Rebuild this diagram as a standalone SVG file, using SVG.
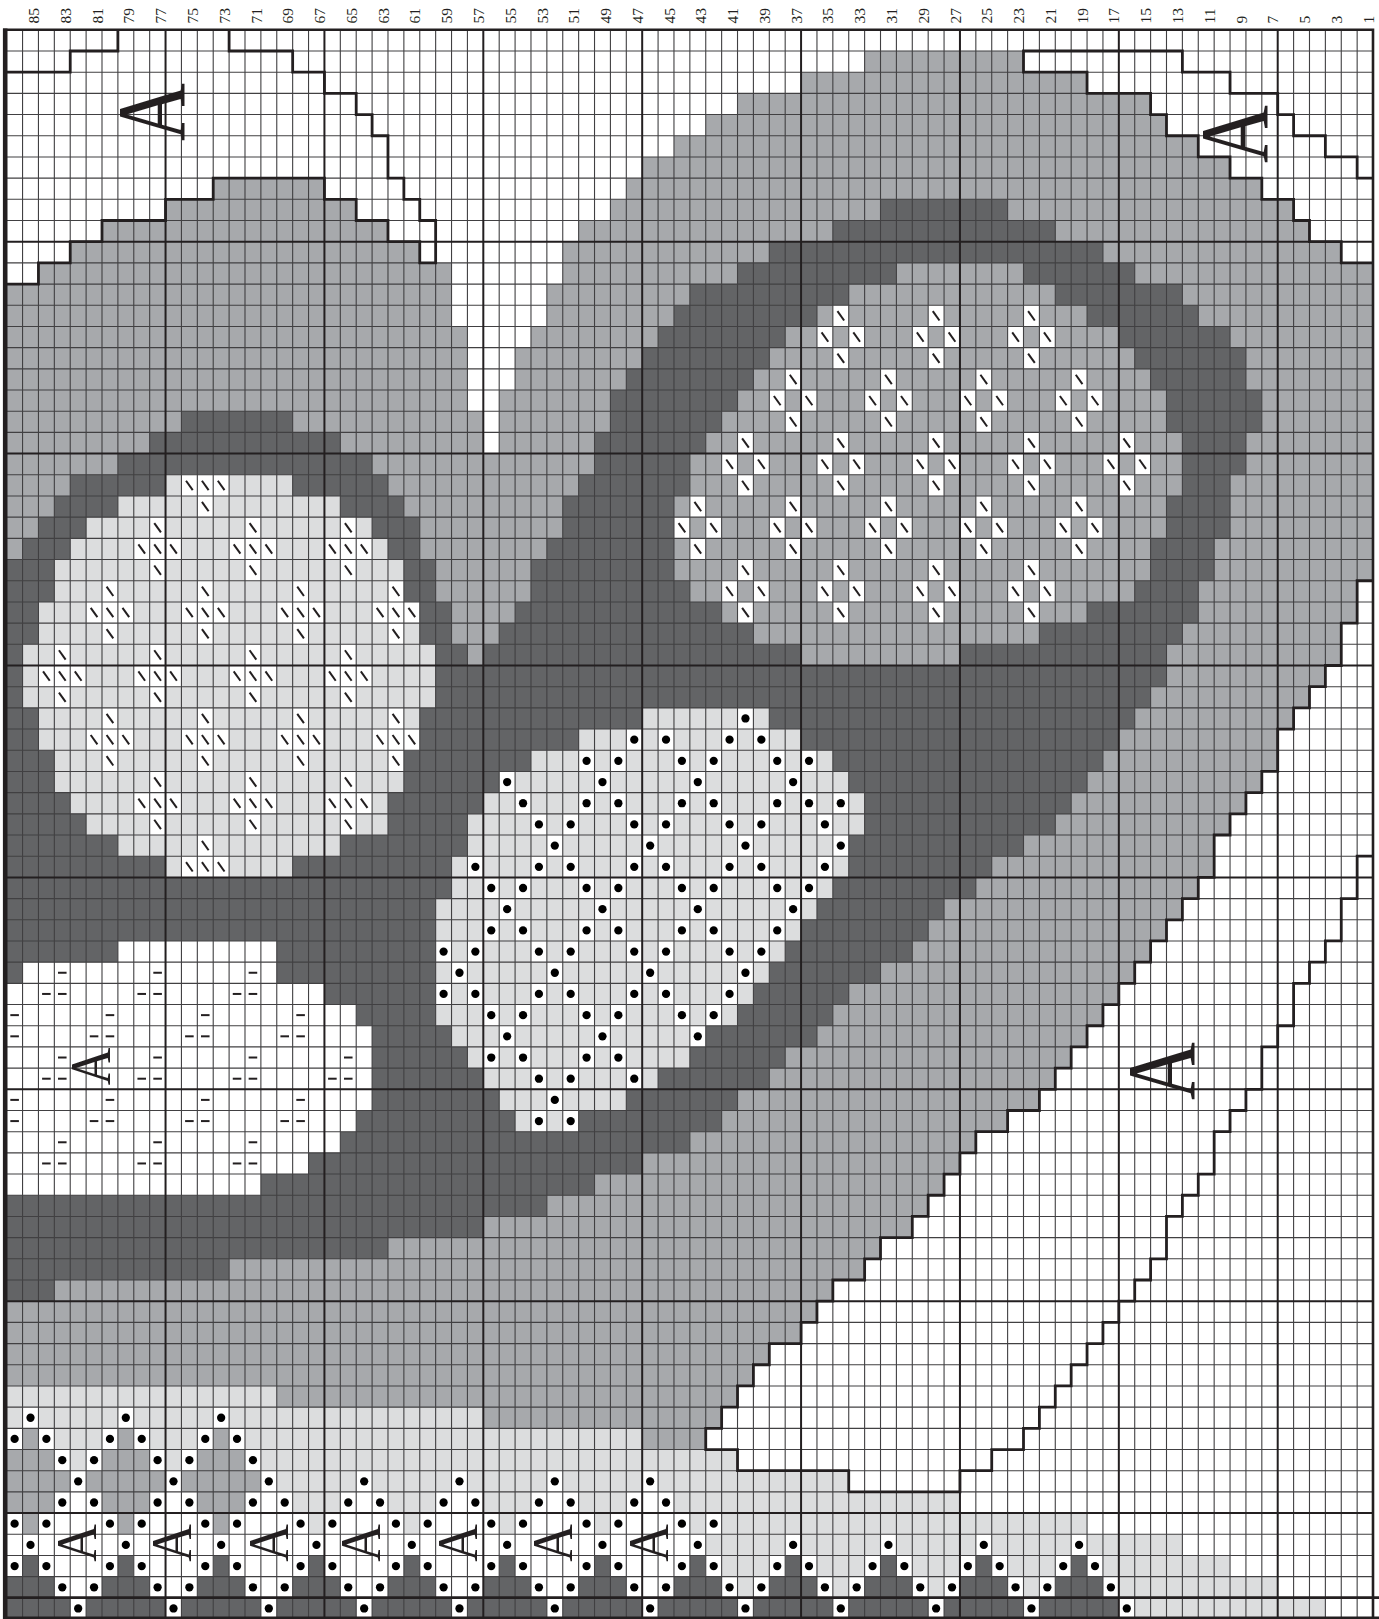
<svg xmlns="http://www.w3.org/2000/svg" width="1379" height="1619" viewBox="0 0 1379 1619">
<style>
.n{font:15.5px "Liberation Serif",serif;fill:#231f20}
.a{font-family:"Liberation Serif",serif;fill:#231f20;text-anchor:middle}
.b{font-size:80px}.c{font-size:52px}
.m{fill:#a7a9ac}.k{fill:#636466}.l{fill:#dcddde}.w{fill:#fff}
.v{vector-effect:non-scaling-stroke;fill:none}
.g1{stroke:#414042;stroke-width:1.1}
.g2{stroke:#231f20;stroke-width:2}
.o{stroke:#231f20;stroke-width:2.8;stroke-linejoin:miter}
.s{stroke:#231f20;stroke-width:2}
</style>
<defs>
<g id="d"><rect width="1" height="1" fill="#fff"/><ellipse cx=".5" cy=".5" rx=".26" ry=".195" fill="#000"/></g>
<g id="s"><rect width="1" height="1" fill="#fff"/><path class="v s" d="M.29 .28L.71 .72"/></g>
<path id="h" class="v s" d="M.23 .5H.77"/>
</defs>
<rect width="1379" height="1619" fill="#fff"/>
<g id="chart" transform="translate(6.67 29.8) scale(15.888 21.19)">
<path class="m" d="M54 1H64V2H54zM50 2H68V3H50zM46 3H72V4H46zM44 4H73V5H44zM42 5H75V6H42zM40 6H77V7H40zM13 7H20V8H13zM39 7H79V8H39zM10 8H22V9H10zM38 8H81V9H38zM6 9H24V10H6zM36 9H82V10H36zM4 10H26V11H4zM35 10H84V11H35zM2 11H28V12H2zM35 11H86V12H35zM0 12H28V14H0zM34 12H86V14H34zM0 14H29V15H0zM33 14H86V15H33zM0 15H29V17H0zM32 15H86V17H32zM0 17H29V18H0zM31 17H86V18H31zM0 18H30V20H0zM31 18H86V20H31zM0 20H86V26H0z"/>
<path class="m" d="M0 26H85V28H84V30H83V31H82V32H81V33H80V35H79V36H78V37H77V38H76V40H75V41H74V42H73V43H72V44H71V45H70V46H69V47H68V48H67V49H66V50H65V51H63V52H61V53H60V54H59V55H58V56H57V57H55V58H54V59H52V60H51V61H50V62H48V63H47V64H46V65H45V66H44V67H0z"/>
<path class="k" d="M55 8H63V9H55zM52 9H66V10H52zM48 10H69V11H48zM46 11H56V12H46zM64 11H71V12H64zM43 12H53V13H43zM66 12H74V13H66zM42 13H51V14H42zM68 13H75V14H68zM41 14H49V15H41zM70 14H77V15H70zM40 15H48V16H40zM71 15H78V16H71zM39 16H47V17H39zM72 16H78V17H72zM38 17H46V18H38zM73 17H79V18H73zM38 18H45V19H38zM73 18H79V19H73zM11 18H18V19H11zM37 19H44V20H37zM74 19H78V20H74zM9 19H21V20H9zM37 20H43V21H37zM74 20H78V21H74zM7 20H23V21H7zM36 21H43V22H36zM74 21H77V22H74zM4 21H24V22H4zM35 22H42V23H35zM73 22H77V23H73zM3 22H25V23H3zM35 23H42V24H35zM73 23H77V24H73zM2 23H26V24H2zM34 24H42V25H34zM72 24H76V25H72zM1 24H26V25H1zM33 25H42V26H33zM72 25H76V26H72zM0 25H27V26H0zM33 26H43V27H33zM71 26H75V27H71zM0 26H27V27H0zM32 27H45V28H32zM68 27H75V28H68zM0 27H28V28H0zM31 28H47V29H31zM65 28H74V29H65zM0 28H28V29H0zM0 29H29V30H0zM30 29H50V30H30zM60 29H73V30H60z"/>
<path class="k" d="M0 30H73V31H72V32H71V33H70V34H69V35H68V36H67V37H66V38H64V39H62V40H61V41H59V42H58V43H57V44H55V45H53V46H52V47H51V48H49V49H48V50H46V51H45V52H43V53H40V54H37V55H34V56H30V57H24V58H14V59H3V60H0z"/>
<path class="l" d="M10 21H18V22H21V23H23V24H24V25H25V27H26V29H27V32H26V34H25V36H24V38H21V39H18V40H10V39H7V38H5V37H4V36H3V34H2V32H1V29H2V27H3V25H4V24H5V23H7V22H10z"/>
<path class="l" d="M40 32H48V33H50V34H52V35H53V36H54V38H53V40H52V41H51V42H50V43H49V44H48V45H47V46H46V47H44V48H43V49H41V50H39V51H36V52H32V51H31V50H30V49H29V48H28V47H27V41H28V39H29V37H30V36H31V35H33V34H36V33H40z"/>
<path class="w" d="M7 43H17V45H20V46H22V47H23V51H22V52H21V53H19V54H16V55H0V45H1V44H7z"/>
<path class="l" d="M0 64H17V65H30V66H40V67H46V68H53V69H60V70H68V71H74V72H77V73H80V74H83V75H0z"/>
<path class="m" d="M1 66H2V67H1zM7 66H8V67H7zM13 66H14V67H13zM0 67H3V68H0zM6 67H9V68H6zM12 67H15V68H12zM0 68H4V69H0zM5 68H10V69H5zM11 68H16V69H11zM0 69H3V70H0zM6 69H9V70H6zM12 69H15V70H12zM1 70H2V71H1zM7 70H8V71H7zM13 70H14V71H13z"/>
<path class="w" d="M4 69H5V70H4zM10 69H11V70H10zM16 69H17V70H16zM22 69H23V70H22zM28 69H29V70H28zM34 69H35V70H34zM40 69H41V70H40zM3 70H6V71H3zM9 70H12V71H9zM15 70H18V71H15zM21 70H24V71H21zM27 70H30V71H27zM33 70H36V71H33zM39 70H42V71H39zM0 71H44V72H0zM3 72H6V73H3zM9 72H12V73H9zM15 72H18V73H15zM21 72H24V73H21zM27 72H30V73H27zM33 72H36V73H33zM39 72H42V73H39zM4 73H5V74H4zM10 73H11V74H10zM16 73H17V74H16zM22 73H23V74H22zM28 73H29V74H28zM34 73H35V74H34zM40 73H41V74H40zM83 74H86V75H83z"/>
<path class="k" d="M1 72H2V73H1zM7 72H8V73H7zM13 72H14V73H13zM19 72H20V73H19zM25 72H26V73H25zM31 72H32V73H31zM37 72H38V73H37zM43 72H44V73H43zM49 72H50V73H49zM55 72H56V73H55zM61 72H62V73H61zM67 72H68V73H67zM0 73H3V74H0zM6 73H9V74H6zM12 73H15V74H12zM18 73H21V74H18zM24 73H27V74H24zM30 73H33V74H30zM36 73H39V74H36zM42 73H45V74H42zM48 73H51V74H48zM54 73H57V74H54zM60 73H63V74H60zM66 73H69V74H66zM0 74H71V75H0z"/>
<g id="slashes">
<use href="#s" x="11" y="21"/><use href="#s" x="12" y="21"/><use href="#s" x="13" y="21"/><use href="#s" x="12" y="22"/>
<use href="#s" x="9" y="23"/><use href="#s" x="15" y="23"/><use href="#s" x="21" y="23"/>
<use href="#s" x="8" y="24"/><use href="#s" x="9" y="24"/><use href="#s" x="10" y="24"/><use href="#s" x="14" y="24"/><use href="#s" x="15" y="24"/><use href="#s" x="16" y="24"/><use href="#s" x="20" y="24"/><use href="#s" x="21" y="24"/><use href="#s" x="22" y="24"/>
<use href="#s" x="9" y="25"/><use href="#s" x="15" y="25"/><use href="#s" x="21" y="25"/>
<use href="#s" x="6" y="26"/><use href="#s" x="12" y="26"/><use href="#s" x="18" y="26"/><use href="#s" x="24" y="26"/>
<use href="#s" x="5" y="27"/><use href="#s" x="6" y="27"/><use href="#s" x="7" y="27"/><use href="#s" x="11" y="27"/><use href="#s" x="12" y="27"/><use href="#s" x="13" y="27"/><use href="#s" x="17" y="27"/><use href="#s" x="18" y="27"/><use href="#s" x="19" y="27"/><use href="#s" x="23" y="27"/><use href="#s" x="24" y="27"/><use href="#s" x="25" y="27"/>
<use href="#s" x="6" y="28"/><use href="#s" x="12" y="28"/><use href="#s" x="18" y="28"/><use href="#s" x="24" y="28"/>
<use href="#s" x="3" y="29"/><use href="#s" x="9" y="29"/><use href="#s" x="15" y="29"/><use href="#s" x="21" y="29"/>
<use href="#s" x="2" y="30"/><use href="#s" x="3" y="30"/><use href="#s" x="4" y="30"/><use href="#s" x="8" y="30"/><use href="#s" x="9" y="30"/><use href="#s" x="10" y="30"/><use href="#s" x="14" y="30"/><use href="#s" x="15" y="30"/><use href="#s" x="16" y="30"/><use href="#s" x="20" y="30"/><use href="#s" x="21" y="30"/><use href="#s" x="22" y="30"/>
<use href="#s" x="3" y="31"/><use href="#s" x="9" y="31"/><use href="#s" x="15" y="31"/><use href="#s" x="21" y="31"/>
<use href="#s" x="6" y="32"/><use href="#s" x="12" y="32"/><use href="#s" x="18" y="32"/><use href="#s" x="24" y="32"/>
<use href="#s" x="5" y="33"/><use href="#s" x="6" y="33"/><use href="#s" x="7" y="33"/><use href="#s" x="11" y="33"/><use href="#s" x="12" y="33"/><use href="#s" x="13" y="33"/><use href="#s" x="17" y="33"/><use href="#s" x="18" y="33"/><use href="#s" x="19" y="33"/><use href="#s" x="23" y="33"/><use href="#s" x="24" y="33"/><use href="#s" x="25" y="33"/>
<use href="#s" x="6" y="34"/><use href="#s" x="12" y="34"/><use href="#s" x="18" y="34"/><use href="#s" x="24" y="34"/>
<use href="#s" x="9" y="35"/><use href="#s" x="15" y="35"/><use href="#s" x="21" y="35"/>
<use href="#s" x="8" y="36"/><use href="#s" x="9" y="36"/><use href="#s" x="10" y="36"/><use href="#s" x="14" y="36"/><use href="#s" x="15" y="36"/><use href="#s" x="16" y="36"/><use href="#s" x="20" y="36"/><use href="#s" x="21" y="36"/><use href="#s" x="22" y="36"/>
<use href="#s" x="9" y="37"/><use href="#s" x="15" y="37"/><use href="#s" x="21" y="37"/>
<use href="#s" x="12" y="38"/><use href="#s" x="11" y="39"/><use href="#s" x="12" y="39"/><use href="#s" x="13" y="39"/>
<use href="#s" x="52" y="13"/><use href="#s" x="58" y="13"/><use href="#s" x="64" y="13"/>
<use href="#s" x="51" y="14"/><use href="#s" x="53" y="14"/><use href="#s" x="57" y="14"/><use href="#s" x="59" y="14"/><use href="#s" x="63" y="14"/><use href="#s" x="65" y="14"/>
<use href="#s" x="52" y="15"/><use href="#s" x="58" y="15"/><use href="#s" x="64" y="15"/>
<use href="#s" x="49" y="16"/><use href="#s" x="55" y="16"/><use href="#s" x="61" y="16"/><use href="#s" x="67" y="16"/>
<use href="#s" x="48" y="17"/><use href="#s" x="50" y="17"/><use href="#s" x="54" y="17"/><use href="#s" x="56" y="17"/><use href="#s" x="60" y="17"/><use href="#s" x="62" y="17"/><use href="#s" x="66" y="17"/><use href="#s" x="68" y="17"/>
<use href="#s" x="49" y="18"/><use href="#s" x="55" y="18"/><use href="#s" x="61" y="18"/><use href="#s" x="67" y="18"/>
<use href="#s" x="46" y="19"/><use href="#s" x="52" y="19"/><use href="#s" x="58" y="19"/><use href="#s" x="64" y="19"/><use href="#s" x="70" y="19"/>
<use href="#s" x="45" y="20"/><use href="#s" x="47" y="20"/><use href="#s" x="51" y="20"/><use href="#s" x="53" y="20"/><use href="#s" x="57" y="20"/><use href="#s" x="59" y="20"/><use href="#s" x="63" y="20"/><use href="#s" x="65" y="20"/><use href="#s" x="69" y="20"/><use href="#s" x="71" y="20"/>
<use href="#s" x="46" y="21"/><use href="#s" x="52" y="21"/><use href="#s" x="58" y="21"/><use href="#s" x="64" y="21"/><use href="#s" x="70" y="21"/>
<use href="#s" x="43" y="22"/><use href="#s" x="49" y="22"/><use href="#s" x="55" y="22"/><use href="#s" x="61" y="22"/><use href="#s" x="67" y="22"/>
<use href="#s" x="42" y="23"/><use href="#s" x="44" y="23"/><use href="#s" x="48" y="23"/><use href="#s" x="50" y="23"/><use href="#s" x="54" y="23"/><use href="#s" x="56" y="23"/><use href="#s" x="60" y="23"/><use href="#s" x="62" y="23"/><use href="#s" x="66" y="23"/><use href="#s" x="68" y="23"/>
<use href="#s" x="43" y="24"/><use href="#s" x="49" y="24"/><use href="#s" x="55" y="24"/><use href="#s" x="61" y="24"/><use href="#s" x="67" y="24"/>
<use href="#s" x="46" y="25"/><use href="#s" x="52" y="25"/><use href="#s" x="58" y="25"/><use href="#s" x="64" y="25"/>
<use href="#s" x="45" y="26"/><use href="#s" x="47" y="26"/><use href="#s" x="51" y="26"/><use href="#s" x="53" y="26"/><use href="#s" x="57" y="26"/><use href="#s" x="59" y="26"/><use href="#s" x="63" y="26"/><use href="#s" x="65" y="26"/>
<use href="#s" x="46" y="27"/><use href="#s" x="52" y="27"/><use href="#s" x="58" y="27"/><use href="#s" x="64" y="27"/>
</g>
<g id="dashes">
<use href="#h" x="3" y="44"/><use href="#h" x="9" y="44"/><use href="#h" x="15" y="44"/>
<use href="#h" x="2" y="45"/><use href="#h" x="3" y="45"/><use href="#h" x="8" y="45"/><use href="#h" x="9" y="45"/><use href="#h" x="14" y="45"/><use href="#h" x="15" y="45"/>
<use href="#h" x="0" y="46"/><use href="#h" x="6" y="46"/><use href="#h" x="12" y="46"/><use href="#h" x="18" y="46"/>
<use href="#h" x="0" y="47"/><use href="#h" x="5" y="47"/><use href="#h" x="6" y="47"/><use href="#h" x="11" y="47"/><use href="#h" x="12" y="47"/><use href="#h" x="17" y="47"/><use href="#h" x="18" y="47"/>
<use href="#h" x="3" y="48"/><use href="#h" x="9" y="48"/><use href="#h" x="15" y="48"/><use href="#h" x="21" y="48"/>
<use href="#h" x="2" y="49"/><use href="#h" x="3" y="49"/><use href="#h" x="8" y="49"/><use href="#h" x="9" y="49"/><use href="#h" x="14" y="49"/><use href="#h" x="15" y="49"/><use href="#h" x="20" y="49"/><use href="#h" x="21" y="49"/>
<use href="#h" x="0" y="50"/><use href="#h" x="6" y="50"/><use href="#h" x="12" y="50"/><use href="#h" x="18" y="50"/>
<use href="#h" x="0" y="51"/><use href="#h" x="5" y="51"/><use href="#h" x="6" y="51"/><use href="#h" x="11" y="51"/><use href="#h" x="12" y="51"/><use href="#h" x="17" y="51"/><use href="#h" x="18" y="51"/>
<use href="#h" x="3" y="52"/><use href="#h" x="9" y="52"/><use href="#h" x="15" y="52"/>
<use href="#h" x="2" y="53"/><use href="#h" x="3" y="53"/><use href="#h" x="8" y="53"/><use href="#h" x="9" y="53"/><use href="#h" x="14" y="53"/><use href="#h" x="15" y="53"/>
</g>
<g id="dots">
<use href="#d" x="46" y="32"/>
<use href="#d" x="39" y="33"/><use href="#d" x="41" y="33"/><use href="#d" x="45" y="33"/><use href="#d" x="47" y="33"/>
<use href="#d" x="36" y="34"/><use href="#d" x="38" y="34"/><use href="#d" x="42" y="34"/><use href="#d" x="44" y="34"/><use href="#d" x="48" y="34"/><use href="#d" x="50" y="34"/>
<use href="#d" x="31" y="35"/><use href="#d" x="37" y="35"/><use href="#d" x="43" y="35"/><use href="#d" x="49" y="35"/>
<use href="#d" x="32" y="36"/><use href="#d" x="36" y="36"/><use href="#d" x="38" y="36"/><use href="#d" x="42" y="36"/><use href="#d" x="44" y="36"/><use href="#d" x="48" y="36"/><use href="#d" x="50" y="36"/><use href="#d" x="52" y="36"/>
<use href="#d" x="33" y="37"/><use href="#d" x="35" y="37"/><use href="#d" x="39" y="37"/><use href="#d" x="41" y="37"/><use href="#d" x="45" y="37"/><use href="#d" x="47" y="37"/><use href="#d" x="51" y="37"/>
<use href="#d" x="34" y="38"/><use href="#d" x="40" y="38"/><use href="#d" x="46" y="38"/><use href="#d" x="52" y="38"/>
<use href="#d" x="29" y="39"/><use href="#d" x="33" y="39"/><use href="#d" x="35" y="39"/><use href="#d" x="39" y="39"/><use href="#d" x="41" y="39"/><use href="#d" x="45" y="39"/><use href="#d" x="47" y="39"/><use href="#d" x="51" y="39"/>
<use href="#d" x="30" y="40"/><use href="#d" x="32" y="40"/><use href="#d" x="36" y="40"/><use href="#d" x="38" y="40"/><use href="#d" x="42" y="40"/><use href="#d" x="44" y="40"/><use href="#d" x="48" y="40"/><use href="#d" x="50" y="40"/>
<use href="#d" x="31" y="41"/><use href="#d" x="37" y="41"/><use href="#d" x="43" y="41"/><use href="#d" x="49" y="41"/>
<use href="#d" x="30" y="42"/><use href="#d" x="32" y="42"/><use href="#d" x="36" y="42"/><use href="#d" x="38" y="42"/><use href="#d" x="42" y="42"/><use href="#d" x="44" y="42"/><use href="#d" x="48" y="42"/>
<use href="#d" x="27" y="43"/><use href="#d" x="29" y="43"/><use href="#d" x="33" y="43"/><use href="#d" x="35" y="43"/><use href="#d" x="39" y="43"/><use href="#d" x="41" y="43"/><use href="#d" x="45" y="43"/><use href="#d" x="47" y="43"/>
<use href="#d" x="28" y="44"/><use href="#d" x="34" y="44"/><use href="#d" x="40" y="44"/><use href="#d" x="46" y="44"/>
<use href="#d" x="27" y="45"/><use href="#d" x="29" y="45"/><use href="#d" x="33" y="45"/><use href="#d" x="35" y="45"/><use href="#d" x="39" y="45"/><use href="#d" x="41" y="45"/><use href="#d" x="45" y="45"/>
<use href="#d" x="30" y="46"/><use href="#d" x="32" y="46"/><use href="#d" x="36" y="46"/><use href="#d" x="38" y="46"/><use href="#d" x="42" y="46"/><use href="#d" x="44" y="46"/>
<use href="#d" x="31" y="47"/><use href="#d" x="37" y="47"/><use href="#d" x="43" y="47"/>
<use href="#d" x="30" y="48"/><use href="#d" x="32" y="48"/><use href="#d" x="36" y="48"/><use href="#d" x="38" y="48"/>
<use href="#d" x="33" y="49"/><use href="#d" x="35" y="49"/><use href="#d" x="39" y="49"/>
<use href="#d" x="34" y="50"/><use href="#d" x="33" y="51"/><use href="#d" x="35" y="51"/>
<use href="#d" x="1" y="65"/><use href="#d" x="7" y="65"/><use href="#d" x="13" y="65"/>
<use href="#d" x="0" y="66"/><use href="#d" x="2" y="66"/><use href="#d" x="6" y="66"/><use href="#d" x="8" y="66"/><use href="#d" x="12" y="66"/><use href="#d" x="14" y="66"/>
<use href="#d" x="3" y="67"/><use href="#d" x="5" y="67"/><use href="#d" x="9" y="67"/><use href="#d" x="11" y="67"/><use href="#d" x="15" y="67"/>
<use href="#d" x="4" y="68"/><use href="#d" x="10" y="68"/><use href="#d" x="16" y="68"/><use href="#d" x="22" y="68"/><use href="#d" x="28" y="68"/><use href="#d" x="34" y="68"/><use href="#d" x="40" y="68"/>
<use href="#d" x="3" y="69"/><use href="#d" x="5" y="69"/><use href="#d" x="9" y="69"/><use href="#d" x="11" y="69"/><use href="#d" x="15" y="69"/><use href="#d" x="17" y="69"/><use href="#d" x="21" y="69"/><use href="#d" x="23" y="69"/><use href="#d" x="27" y="69"/><use href="#d" x="29" y="69"/><use href="#d" x="33" y="69"/><use href="#d" x="35" y="69"/><use href="#d" x="39" y="69"/><use href="#d" x="41" y="69"/>
<use href="#d" x="0" y="70"/><use href="#d" x="2" y="70"/><use href="#d" x="6" y="70"/><use href="#d" x="8" y="70"/><use href="#d" x="12" y="70"/><use href="#d" x="14" y="70"/><use href="#d" x="18" y="70"/><use href="#d" x="20" y="70"/><use href="#d" x="24" y="70"/><use href="#d" x="26" y="70"/><use href="#d" x="30" y="70"/><use href="#d" x="32" y="70"/><use href="#d" x="36" y="70"/><use href="#d" x="38" y="70"/><use href="#d" x="42" y="70"/><use href="#d" x="44" y="70"/>
<use href="#d" x="1" y="71"/><use href="#d" x="7" y="71"/><use href="#d" x="13" y="71"/><use href="#d" x="19" y="71"/><use href="#d" x="25" y="71"/><use href="#d" x="31" y="71"/><use href="#d" x="37" y="71"/><use href="#d" x="43" y="71"/><use href="#d" x="49" y="71"/><use href="#d" x="55" y="71"/><use href="#d" x="61" y="71"/><use href="#d" x="67" y="71"/>
<use href="#d" x="0" y="72"/><use href="#d" x="2" y="72"/><use href="#d" x="6" y="72"/><use href="#d" x="8" y="72"/><use href="#d" x="12" y="72"/><use href="#d" x="14" y="72"/><use href="#d" x="18" y="72"/><use href="#d" x="20" y="72"/><use href="#d" x="24" y="72"/><use href="#d" x="26" y="72"/><use href="#d" x="30" y="72"/><use href="#d" x="32" y="72"/><use href="#d" x="36" y="72"/><use href="#d" x="38" y="72"/><use href="#d" x="42" y="72"/><use href="#d" x="44" y="72"/><use href="#d" x="48" y="72"/><use href="#d" x="50" y="72"/><use href="#d" x="54" y="72"/><use href="#d" x="56" y="72"/><use href="#d" x="60" y="72"/><use href="#d" x="62" y="72"/><use href="#d" x="66" y="72"/><use href="#d" x="68" y="72"/>
<use href="#d" x="3" y="73"/><use href="#d" x="5" y="73"/><use href="#d" x="9" y="73"/><use href="#d" x="11" y="73"/><use href="#d" x="15" y="73"/><use href="#d" x="17" y="73"/><use href="#d" x="21" y="73"/><use href="#d" x="23" y="73"/><use href="#d" x="27" y="73"/><use href="#d" x="29" y="73"/><use href="#d" x="33" y="73"/><use href="#d" x="35" y="73"/><use href="#d" x="39" y="73"/><use href="#d" x="41" y="73"/><use href="#d" x="45" y="73"/><use href="#d" x="47" y="73"/><use href="#d" x="51" y="73"/><use href="#d" x="53" y="73"/><use href="#d" x="57" y="73"/><use href="#d" x="59" y="73"/><use href="#d" x="63" y="73"/><use href="#d" x="65" y="73"/><use href="#d" x="69" y="73"/>
<use href="#d" x="4" y="74"/><use href="#d" x="10" y="74"/><use href="#d" x="16" y="74"/><use href="#d" x="22" y="74"/><use href="#d" x="28" y="74"/><use href="#d" x="34" y="74"/><use href="#d" x="40" y="74"/><use href="#d" x="46" y="74"/><use href="#d" x="52" y="74"/><use href="#d" x="58" y="74"/><use href="#d" x="64" y="74"/><use href="#d" x="70" y="74"/>
</g>
<path id="grid" class="v g1" d="M1 0V75M2 0V75M3 0V75M4 0V75M5 0V75M6 0V75M7 0V75M8 0V75M9 0V75M11 0V75M12 0V75M13 0V75M14 0V75M15 0V75M16 0V75M17 0V75M18 0V75M19 0V75M21 0V75M22 0V75M23 0V75M24 0V75M25 0V75M26 0V75M27 0V75M28 0V75M29 0V75M31 0V75M32 0V75M33 0V75M34 0V75M35 0V75M36 0V75M37 0V75M38 0V75M39 0V75M41 0V75M42 0V75M43 0V75M44 0V75M45 0V75M46 0V75M47 0V75M48 0V75M49 0V75M51 0V75M52 0V75M53 0V75M54 0V75M55 0V75M56 0V75M57 0V75M58 0V75M59 0V75M61 0V75M62 0V75M63 0V75M64 0V75M65 0V75M66 0V75M67 0V75M68 0V75M69 0V75M71 0V75M72 0V75M73 0V75M74 0V75M75 0V75M76 0V75M77 0V75M78 0V75M79 0V75M81 0V75M82 0V75M83 0V75M84 0V75M85 0V75M0 1H86M0 2H86M0 3H86M0 4H86M0 5H86M0 6H86M0 7H86M0 8H86M0 9H86M0 11H86M0 12H86M0 13H86M0 14H86M0 15H86M0 16H86M0 17H86M0 18H86M0 19H86M0 21H86M0 22H86M0 23H86M0 24H86M0 25H86M0 26H86M0 27H86M0 28H86M0 29H86M0 31H86M0 32H86M0 33H86M0 34H86M0 35H86M0 36H86M0 37H86M0 38H86M0 39H86M0 41H86M0 42H86M0 43H86M0 44H86M0 45H86M0 46H86M0 47H86M0 48H86M0 49H86M0 51H86M0 52H86M0 53H86M0 54H86M0 55H86M0 56H86M0 57H86M0 58H86M0 59H86M0 61H86M0 62H86M0 63H86M0 64H86M0 65H86M0 66H86M0 67H86M0 68H86M0 69H86M0 71H86M0 72H86M0 73H86"/>
<path id="bold" class="v g2" d="M10 0V75M20 0V75M30 0V75M40 0V75M50 0V75M60 0V75M70 0V75M80 0V75M0 10H86M0 20H86M0 30H86M0 40H86M0 50H86M0 60H86M0 70H86"/>
<g id="outlines">
<path class="v o" d="M0 2H4V1H7V0"/>
<path class="v o" d="M14 0V1H18V2H20V3H22V4H23V5H24V7H25V8H26V9H27V11H26V10H24V9H22V8H20V7H13V8H10V9H6V10H4V11H2V12H0"/>
<path class="v o" d="M86 11H84V10H82V9H81V8H79V7H77V6H75V5H73V4H72V3H68V2H64V1H74V2H77V3H80V4H81V5H83V6H85V7H86"/>
<path class="v o" d="M86 26H85V28H84V30H83V31H82V32H81V33H80V35H79V36H78V37H77V38H76V40H75V41H74V42H73V43H72V44H71V45H70V46H69V47H68V48H67V49H66V50H65V51H63V52H61V53H60V54H59V55H58V56H57V57H55V58H54V59H52V60H51V61H50V62H48V63H47V64H46V65H45V66H44V67H46V68H53V69H60V68H62V67H64V66H65V65H66V64H67V63H68V62H69V61H70V60H71V59H72V58H73V56H74V55H75V54H76V52H77V51H78V50H79V48H80V47H81V45H82V44H83V43H84V41H85V39H86"/>
</g>
</g>
<g id="border" fill="none" stroke="#231f20">
<path stroke-width="4.6" d="M5.2 28.5V1619"/>
<path stroke-width="2.6" d="M3 29.8H1374M1373 28.5V1619"/>
<path stroke-width="2.8" d="M3 1597.7H1379"/>
<path stroke-width="3" d="M3 1618H1379"/>
</g>
<g id="letters">
<text class="a b" transform="translate(184 112) rotate(-90) scale(1 1.22)">A</text>
<text class="a b" transform="translate(1266.7 134) rotate(-90) scale(1 1.22)">A</text>
<text class="a b" transform="translate(1194.4 1071) rotate(-90) scale(1 1.22)">A</text>
<text class="a c" transform="translate(110 1066.5) rotate(-90) scale(1 1.1)">A</text>
<text class="a c" transform="translate(96 1543) rotate(-90) scale(1 1.1)">A</text>
<text class="a c" transform="translate(191 1543) rotate(-90) scale(1 1.1)">A</text>
<text class="a c" transform="translate(288 1543) rotate(-90) scale(1 1.1)">A</text>
<text class="a c" transform="translate(380 1543) rotate(-90) scale(1 1.1)">A</text>
<text class="a c" transform="translate(477 1543) rotate(-90) scale(1 1.1)">A</text>
<text class="a c" transform="translate(572 1543) rotate(-90) scale(1 1.1)">A</text>
<text class="a c" transform="translate(668 1543) rotate(-90) scale(1 1.1)">A</text>
</g>
<g id="labels">
<text class="n" transform="translate(39.1 23.5) rotate(-90)">85</text>
<text class="n" transform="translate(70.8 23.5) rotate(-90)">83</text>
<text class="n" transform="translate(102.6 23.5) rotate(-90)">81</text>
<text class="n" transform="translate(134.4 23.5) rotate(-90)">79</text>
<text class="n" transform="translate(166.2 23.5) rotate(-90)">77</text>
<text class="n" transform="translate(197.9 23.5) rotate(-90)">75</text>
<text class="n" transform="translate(229.7 23.5) rotate(-90)">73</text>
<text class="n" transform="translate(261.5 23.5) rotate(-90)">71</text>
<text class="n" transform="translate(293.3 23.5) rotate(-90)">69</text>
<text class="n" transform="translate(325 23.5) rotate(-90)">67</text>
<text class="n" transform="translate(356.8 23.5) rotate(-90)">65</text>
<text class="n" transform="translate(388.6 23.5) rotate(-90)">63</text>
<text class="n" transform="translate(420.4 23.5) rotate(-90)">61</text>
<text class="n" transform="translate(452.1 23.5) rotate(-90)">59</text>
<text class="n" transform="translate(483.9 23.5) rotate(-90)">57</text>
<text class="n" transform="translate(515.7 23.5) rotate(-90)">55</text>
<text class="n" transform="translate(547.5 23.5) rotate(-90)">53</text>
<text class="n" transform="translate(579.2 23.5) rotate(-90)">51</text>
<text class="n" transform="translate(611 23.5) rotate(-90)">49</text>
<text class="n" transform="translate(642.8 23.5) rotate(-90)">47</text>
<text class="n" transform="translate(674.6 23.5) rotate(-90)">45</text>
<text class="n" transform="translate(706.3 23.5) rotate(-90)">43</text>
<text class="n" transform="translate(738.1 23.5) rotate(-90)">41</text>
<text class="n" transform="translate(769.9 23.5) rotate(-90)">39</text>
<text class="n" transform="translate(801.7 23.5) rotate(-90)">37</text>
<text class="n" transform="translate(833.4 23.5) rotate(-90)">35</text>
<text class="n" transform="translate(865.2 23.5) rotate(-90)">33</text>
<text class="n" transform="translate(897 23.5) rotate(-90)">31</text>
<text class="n" transform="translate(928.8 23.5) rotate(-90)">29</text>
<text class="n" transform="translate(960.5 23.5) rotate(-90)">27</text>
<text class="n" transform="translate(992.3 23.5) rotate(-90)">25</text>
<text class="n" transform="translate(1024.1 23.5) rotate(-90)">23</text>
<text class="n" transform="translate(1055.9 23.5) rotate(-90)">21</text>
<text class="n" transform="translate(1087.6 23.5) rotate(-90)">19</text>
<text class="n" transform="translate(1119.4 23.5) rotate(-90)">17</text>
<text class="n" transform="translate(1151.2 23.5) rotate(-90)">15</text>
<text class="n" transform="translate(1183 23.5) rotate(-90)">13</text>
<text class="n" transform="translate(1214.7 23.5) rotate(-90)">11</text>
<text class="n" transform="translate(1246.5 23.5) rotate(-90)">9</text>
<text class="n" transform="translate(1278.3 23.5) rotate(-90)">7</text>
<text class="n" transform="translate(1310.1 23.5) rotate(-90)">5</text>
<text class="n" transform="translate(1341.8 23.5) rotate(-90)">3</text>
<text class="n" transform="translate(1373.6 23.5) rotate(-90)">1</text>
</g>
</svg>
